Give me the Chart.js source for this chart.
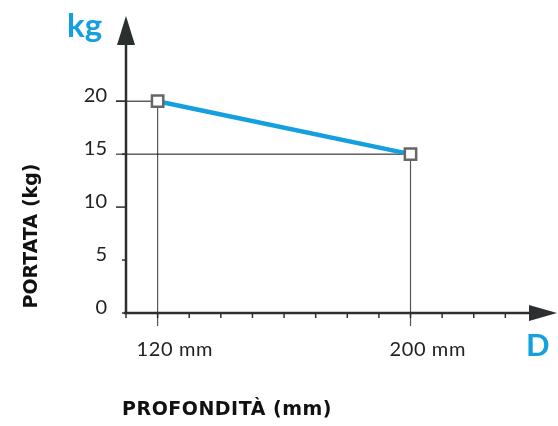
<!DOCTYPE html>
<html>
<head>
<meta charset="utf-8">
<script src="https://cdn.jsdelivr.net/npm/chart.js@4.4.1/dist/chart.umd.min.js"></script>
<style>
  html, body { margin: 0; padding: 0; background: #ffffff; }
  #wrap { width: 558px; height: 426px; position: relative; }
</style>
</head>
<body>
<div id="wrap"><canvas id="c" width="558" height="426"></canvas></div>
<script>
// ---- data ----
const depthsMm = [120, 200];          // PROFONDITÀ (mm)
const loadsKg = [20, 15];             // PORTATA (kg)
const yTickValues = [0, 5, 10, 15, 20];
const xTickLabels = ['120 mm', '200 mm'];
const xMinorStep = 10;                // mm between small ticks on the D axis
const yAxisUnit = 'kg';
const xAxisUnit = 'D';
const yTitle = 'PORTATA (kg)';
const xTitle = 'PROFONDITÀ (mm)';

const BLUE = '#149fdf';
const AXIS = '#2b2f2f';

const axesPlugin = {
  id: 'axesPlugin',
  beforeDatasetsDraw(chart) {
    const { ctx, scales } = chart;
    const xs = scales.x, ys = scales.y;
    const y0 = ys.getPixelForValue(0);
    const x0 = xs.getPixelForValue(xs.min);
    ctx.save();
    depthsMm.forEach((d, i) => {
      const px = xs.getPixelForValue(d);
      const py = ys.getPixelForValue(loadsKg[i]);
      ctx.lineWidth = 1.2;
      ctx.strokeStyle = '#555';
      ctx.beginPath();
      ctx.moveTo(px, y0 + 13);
      ctx.lineTo(px, py);
      ctx.stroke();
      ctx.lineWidth = 1;
      ctx.strokeStyle = '#111';
      ctx.beginPath();
      ctx.moveTo(x0 - 10, py);
      ctx.lineTo(px, py);
      ctx.stroke();
    });
    ctx.restore();
  },
  afterDraw(chart) {
    const { ctx, chartArea, scales } = chart;
    const xs = scales.x, ys = scales.y;
    const y0 = ys.getPixelForValue(0);
    const x0 = xs.getPixelForValue(xs.min);
    ctx.save();
    ctx.strokeStyle = AXIS;
    ctx.fillStyle = AXIS;
    ctx.lineWidth = 2.5;
    // y axis
    ctx.beginPath();
    ctx.moveTo(x0, y0 + 1);
    ctx.lineTo(x0, chartArea.top);
    ctx.stroke();
    // y arrow
    ctx.beginPath();
    ctx.moveTo(x0 - 9, chartArea.top + 1);
    ctx.lineTo(x0 + 9, chartArea.top + 1);
    ctx.lineTo(x0, chartArea.top - 28);
    ctx.closePath();
    ctx.fill();
    // x axis
    ctx.beginPath();
    ctx.moveTo(x0 - 2, y0);
    ctx.lineTo(chartArea.right, y0);
    ctx.stroke();
    // x arrow
    ctx.beginPath();
    ctx.moveTo(chartArea.right - 1, y0 - 8);
    ctx.lineTo(chartArea.right - 1, y0 + 8);
    ctx.lineTo(chartArea.right + 27, y0);
    ctx.closePath();
    ctx.fill();
    // x minor ticks
    ctx.lineWidth = 1.5;
    for (let v = xs.min; v <= xs.max; v += xMinorStep) {
      const px = xs.getPixelForValue(v);
      if (px > chartArea.right - 4) break;
      ctx.beginPath();
      ctx.moveTo(px, y0);
      ctx.lineTo(px, y0 + 5);
      ctx.stroke();
    }
    // y ticks + labels
    ctx.font = '20px Lato';
    ctx.fillStyle = '#222';
    ctx.textAlign = 'right';
    ctx.textBaseline = 'alphabetic';
    yTickValues.forEach(v => {
      const py = ys.getPixelForValue(v);
      const len = (v > 0 && v % 10 === 0) ? 10 : 4;
      ctx.strokeStyle = AXIS;
      ctx.lineWidth = 1.5;
      ctx.beginPath();
      ctx.moveTo(x0 - len, py);
      ctx.lineTo(x0, py);
      ctx.stroke();
      ctx.fillText(String(v), x0 - 19, py + 1);
    });
    // x labels
    ctx.textAlign = 'left';
    ctx.font = '20px Lato';
    depthsMm.forEach((d, i) => {
      const px = xs.getPixelForValue(d);
      ctx.save();
      ctx.letterSpacing = '0.6px';
      ctx.fillText(xTickLabels[i], px - 21, y0 + 43);
      ctx.restore();
    });
    // unit letters
    ctx.fillStyle = BLUE;
    ctx.font = 'bold 33px Lato';
    ctx.textAlign = 'left';
    ctx.fillText(yAxisUnit, 67, 37);
    ctx.font = 'bold 31px Lato';
    ctx.fillText(xAxisUnit, 526, 356);
    // titles
    ctx.fillStyle = '#111';
    ctx.font = 'bold 19px "DejaVu Sans"';
    ctx.textAlign = 'center';
    ctx.save();
    ctx.letterSpacing = '0.5px';
    ctx.fillText(xTitle, 227, 415);
    ctx.restore();
    ctx.save();
    ctx.translate(37, 236);
    ctx.rotate(-Math.PI / 2);
    ctx.fillText(yTitle, 0, 0);
    ctx.restore();
    ctx.restore();
  }
};

new Chart(document.getElementById('c'), {
  type: 'line',
  data: {
    datasets: [{
      data: depthsMm.map((d, i) => ({ x: d, y: loadsKg[i] })),
      borderColor: BLUE,
      borderWidth: 4.5,
      pointStyle: 'rect',
      pointRadius: 8,
      pointBorderWidth: 2.5,
      pointBorderColor: '#666',
      pointBackgroundColor: '#ffffff',
      tension: 0
    }]
  },
  options: {
    responsive: false,
    animation: false,
    layout: { padding: { left: 126, right: 28, top: 44, bottom: 113 } },
    plugins: { legend: { display: false }, tooltip: { enabled: false } },
    scales: {
      x: { type: 'linear', display: false, min: 110, max: 237.8 },
      y: { type: 'linear', display: false, min: 0, max: 25.4 }
    }
  },
  plugins: [axesPlugin]
});
</script>
</body>
</html>
